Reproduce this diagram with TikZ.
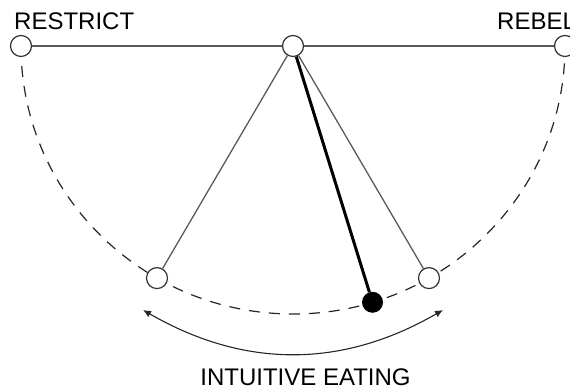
\documentclass[tikz,border=0pt]{standalone}
\usepackage{fontspec}
\setmainfont{Liberation Sans}
\usetikzlibrary{arrows.meta, positioning, backgrounds}
\definecolor{stroke}{RGB}{90,90,90}
\tikzset{
  knob/.style={circle, draw=black!80, fill=white, line width=1.2pt,
    minimum size=21pt, inner sep=0pt},
  bob/.style={circle, fill=black, minimum size=21pt, inner sep=0pt},
  rod/.style={draw=stroke, line width=1.3pt},
  heavyrod/.style={draw=black, line width=3pt},
  swing/.style={draw=black!85, dash pattern=on 11pt off 9pt, line width=1.2pt},
  spanarrow/.style={{Latex[length=8pt,width=7pt]}-{Latex[length=8pt,width=7pt]},
    line width=1.1pt, color=black!85},
  etiq/.style={font=\fontsize{24}{28}\selectfont, inner sep=0pt}
}
\begin{document}
\begin{tikzpicture}[x=1pt, y=1pt]
  \useasboundingbox (0,0) rectangle (570,390);
  \coordinate (c) at (293,344);
  \node[knob] (pivot) at (c) {};
  \node[knob] (left) at ([shift={(180:272 and 268)}]c) {};
  \node[knob] (right) at ([shift={(0:272 and 268)}]c) {};
  \node[knob] (tl) at ([shift={(240:272 and 268)}]c) {};
  \node[knob] (tr) at ([shift={(300:272 and 268)}]c) {};
  \node[bob] (ball) at ([shift={(287:272 and 268)}]c) {};
  \node[etiq, anchor=base west] (restrict) at (14,360) {RESTRICT};
  \node[etiq, anchor=base west] (rebel) at (497,360) {REBEL};
  \node[etiq, anchor=base] (ie) at (305.5,4) {INTUITIVE EATING};
  \coordinate (al) at (143,80);
  \coordinate (ar) at (443,80);
  % swing path behind the circles
  \begin{scope}[on background layer]
    \draw[swing] (left.center) arc[start angle=180, end angle=360,
      x radius=272, y radius=268];
  \end{scope}
  \draw[rod] (left) -- (pivot);
  \draw[rod] (pivot) -- (right);
  \draw[rod] (pivot) -- (tl);
  \draw[rod] (pivot) -- (tr);
  \draw[heavyrod] (pivot) -- (ball);
  \draw[spanarrow] (al) to[bend right=30] (ar);
\end{tikzpicture}
\end{document}
